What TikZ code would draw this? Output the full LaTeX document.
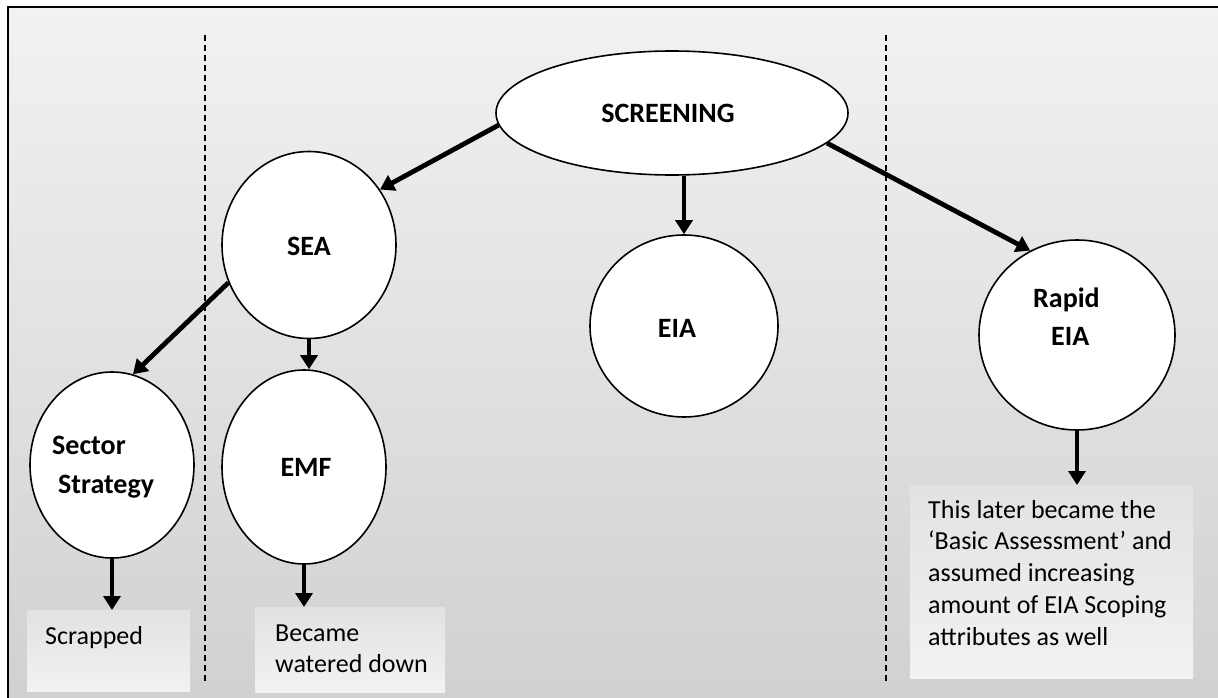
\documentclass[tikz,border=0pt]{standalone}
\usepackage{fontspec}
\setmainfont{Carlito}
\usetikzlibrary{shapes.geometric,arrows.meta}
\definecolor{bgtop}{HTML}{F2F2F2}
\definecolor{bgbot}{HTML}{D0D0D0}
\definecolor{boxtop}{HTML}{E2E2E2}
\definecolor{boxbot}{HTML}{F2F2F2}
\begin{document}
\begin{tikzpicture}[x=1pt,y=-1pt,
  bubble/.style={ellipse, draw=black, line width=1.6pt, fill=white, inner sep=0pt},
  lbl/.style={font=\fontsize{28}{39}\selectfont\bfseries, inner sep=0pt},
  flow/.style={line width=4.8pt, -{Triangle[length=14pt,width=17pt]}},
  divider/.style={line width=1.9pt, dash pattern=on 6pt off 4pt},
  notebox/.style={top color=boxtop, bottom color=boxbot, draw=none, inner sep=0pt, anchor=north west},
  note/.style={font=\fontsize{26}{31.7}\selectfont, align=left, inner sep=0pt, anchor=base west}]
\useasboundingbox (0,0) rectangle (1218,698);
\clip (0,0) rectangle (1218,698);

% background panel with its frame (right and bottom sides run off the page)
\fill[white] (0,0) rectangle (1218,698);
\shade[top color=bgtop, bottom color=bgbot] (8,7) rectangle (1230,710);
\draw[line width=2pt] (1230,7) -- (8,7) -- (8,710);

% dashed dividers
\coordinate (d1a) at (205,35);
\coordinate (d1b) at (205,683);
\coordinate (d2a) at (886,35);
\coordinate (d2b) at (886,683);
\draw[divider] (d1a) -- (d1b);
\draw[divider] (d2a) -- (d2b);

% stages
\node[bubble, minimum width=352pt, minimum height=124pt] (screen) at (672,113) {};
\node[bubble, minimum width=174pt, minimum height=187pt] (sea) at (309,245) {};
\node[bubble, minimum width=188pt, minimum height=182pt] (eia) at (684,326) {};
\node[bubble, minimum width=196pt, minimum height=190pt] (rapid) at (1077,335) {};
\node[bubble, minimum width=164pt, minimum height=186pt] (sector) at (112,465) {};
\node[bubble, minimum width=164pt, minimum height=194pt] (emf) at (304,467) {};

\node[lbl, anchor=base] (tscreen) at (668,123) {SCREENING};
\node[lbl, anchor=base] (tsea) at (309,255) {SEA};
\node[lbl, anchor=base] (teia) at (677,337) {EIA};
\node[lbl, anchor=base] (temf) at (306,476) {EMF};
\node[lbl, anchor=base west] (tsector) at (52,454) {Sector};
\node[lbl, anchor=base west] (tstrategy) at (58,493) {Strategy};
\node[lbl, anchor=base west] (trapid) at (1033,307) {Rapid};
\node[lbl, anchor=base west] (treia) at (1051,345) {EIA};

% outcome boxes
\node[notebox, minimum width=163pt, minimum height=81pt] (scrapped) at (27,610) {};
\node[notebox, minimum width=190pt, minimum height=85pt] (became) at (255,607) {};
\node[notebox, minimum width=283pt, minimum height=193pt] (basic) at (910,485) {};

% multi-line notes sit on the baseline of their last line
\node[note] (tscrapped) at (45,644) {Scrapped};
\node[note, font=\fontsize{26}{30.5}\selectfont] (tbecame) at (275,672) {Became\\watered down};
\node[note] (tbasic) at (928,645) {This later became the\\‘Basic Assessment’ and\\assumed increasing\\amount of EIA Scoping\\attributes as well};

% connectors
\draw[flow] (screen.184) -- (sea.38);
\draw[flow] (screen.south -| eia.north) -- (eia.north);
\draw[flow] (screen.-11) -- (rapid.119);
\draw[flow] (sea.205) -- (sector.77);
\draw[flow] (sea.south) -- (sea.south |- emf.north);
\draw[flow] (sector.south) -- (sector.south |- scrapped.north);
\draw[flow] (emf.south) -- (emf.south |- became.north);
\draw[flow] (rapid.south) -- (rapid.south |- basic.north);
\end{tikzpicture}
\end{document}
